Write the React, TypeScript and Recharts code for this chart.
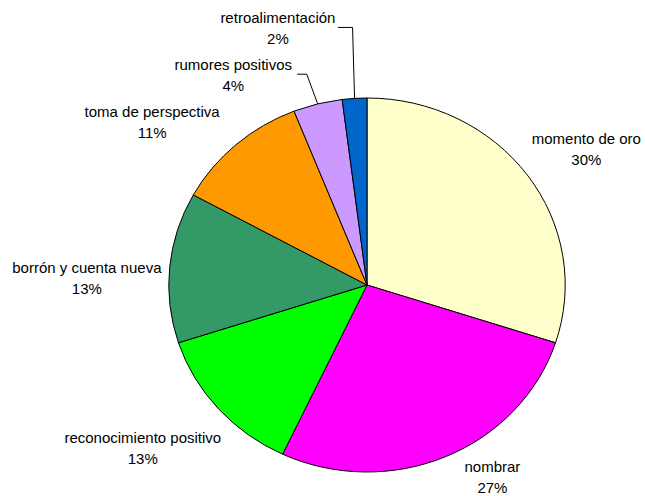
import React from "react"
import { PieChart, Pie, Cell } from "recharts"

const CATEGORIES = [
  "momento de oro",
  "nombrar",
  "reconocimiento positivo",
  "borrón y cuenta nueva",
  "toma de perspectiva",
  "rumores positivos",
  "retroalimentación",
]
const SHARES = [30, 27, 13, 13, 11, 4, 2]
const COLORS = ["#FFFFCC", "#FF00FF", "#00FF00", "#339966", "#FF9900", "#CC99FF", "#0066CC"]

const data = CATEGORIES.map((name, i) => ({ name, value: SHARES[i] }))

// pie is a bit wider than tall in the original
const STRETCH = 1.06
const RAD = Math.PI / 180

// label placement tweaks (relative to a point beyond the rim on the slice mid angle)
const LABEL_NUDGE = [
  [25, -2],
  [30, -19],
  [-44, 11],
  [-41, 14],
  [-56, 8],
  [-74, 11],
  [-74, -29],
]
// small slices get a leader line: elbow x shift from rim point, line end gap after text
const LEADERS: Record<number, { elbow: number; half: number }> = {
  5: { elbow: -11, half: 64 },
  6: { elbow: -2, half: 60 },
}

function EllipseSector(props: any) {
  const { cx, cy, outerRadius, startAngle, endAngle, fill } = props
  const rx = outerRadius * STRETCH
  const ry = outerRadius
  const x1 = cx + rx * Math.cos(startAngle * RAD)
  const y1 = cy - ry * Math.sin(startAngle * RAD)
  const x2 = cx + rx * Math.cos(endAngle * RAD)
  const y2 = cy - ry * Math.sin(endAngle * RAD)
  const large = Math.abs(startAngle - endAngle) > 180 ? 1 : 0
  const sweep = startAngle > endAngle ? 1 : 0
  const d = `M${cx},${cy} L${x1},${y1} A${rx},${ry} 0 ${large} ${sweep} ${x2},${y2} Z`
  return <path d={d} fill={fill} stroke="#000" strokeWidth={1} />
}

function renderLabel(props: any) {
  const { cx, cy, midAngle, outerRadius, percent, name, index } = props
  const c = Math.cos(midAngle * RAD)
  const s = Math.sin(midAngle * RAD)
  const rx = outerRadius * STRETCH
  const ry = outerRadius
  const bx = cx + (rx + 42) * c
  const by = cy - (ry + 42) * s
  const [dx, dy] = LABEL_NUDGE[index]
  const lx = bx + dx
  const ly = by + dy
  const leader = LEADERS[index]
  let line = null
  if (leader) {
    const ex = cx + rx * c
    const ey = cy - ry * s
    const pts = `${ex},${ey} ${ex + leader.elbow},${ly} ${lx + leader.half},${ly}`
    line = <polyline points={pts} fill="none" stroke="#000" strokeWidth={1} />
  }
  return (
    <g key={`lbl-${index}`}>
      {line}
      <text
        x={lx}
        y={ly}
        textAnchor="middle"
        fontFamily="'Liberation Sans', Arial, sans-serif"
        fontSize={15}
        fill="#000"
      >
        <tspan x={lx} y={ly - 10} dominantBaseline="central">
          {name}
        </tspan>
        <tspan x={lx} y={ly + 11} dominantBaseline="central">
          {`${Math.round(percent * 100)}%`}
        </tspan>
      </text>
    </g>
  )
}

export default function App() {
  return (
    <div style={{ position: "absolute", left: 0, top: 0, background: "#fff" }}>
      <PieChart width={645} height={496} margin={{ top: 0, right: 0, bottom: 0, left: 0 }}>
        <Pie
          data={data}
          dataKey="value"
          nameKey="name"
          cx={367}
          cy={285}
          outerRadius={187}
          startAngle={90}
          endAngle={-270}
          stroke="#000"
          strokeWidth={1}
          shape={EllipseSector}
          label={renderLabel}
          labelLine={false}
          isAnimationActive={false}
        >
          {data.map((entry, i) => (
            <Cell key={`cell-${i}`} fill={COLORS[i]} />
          ))}
        </Pie>
      </PieChart>
    </div>
  )
}
